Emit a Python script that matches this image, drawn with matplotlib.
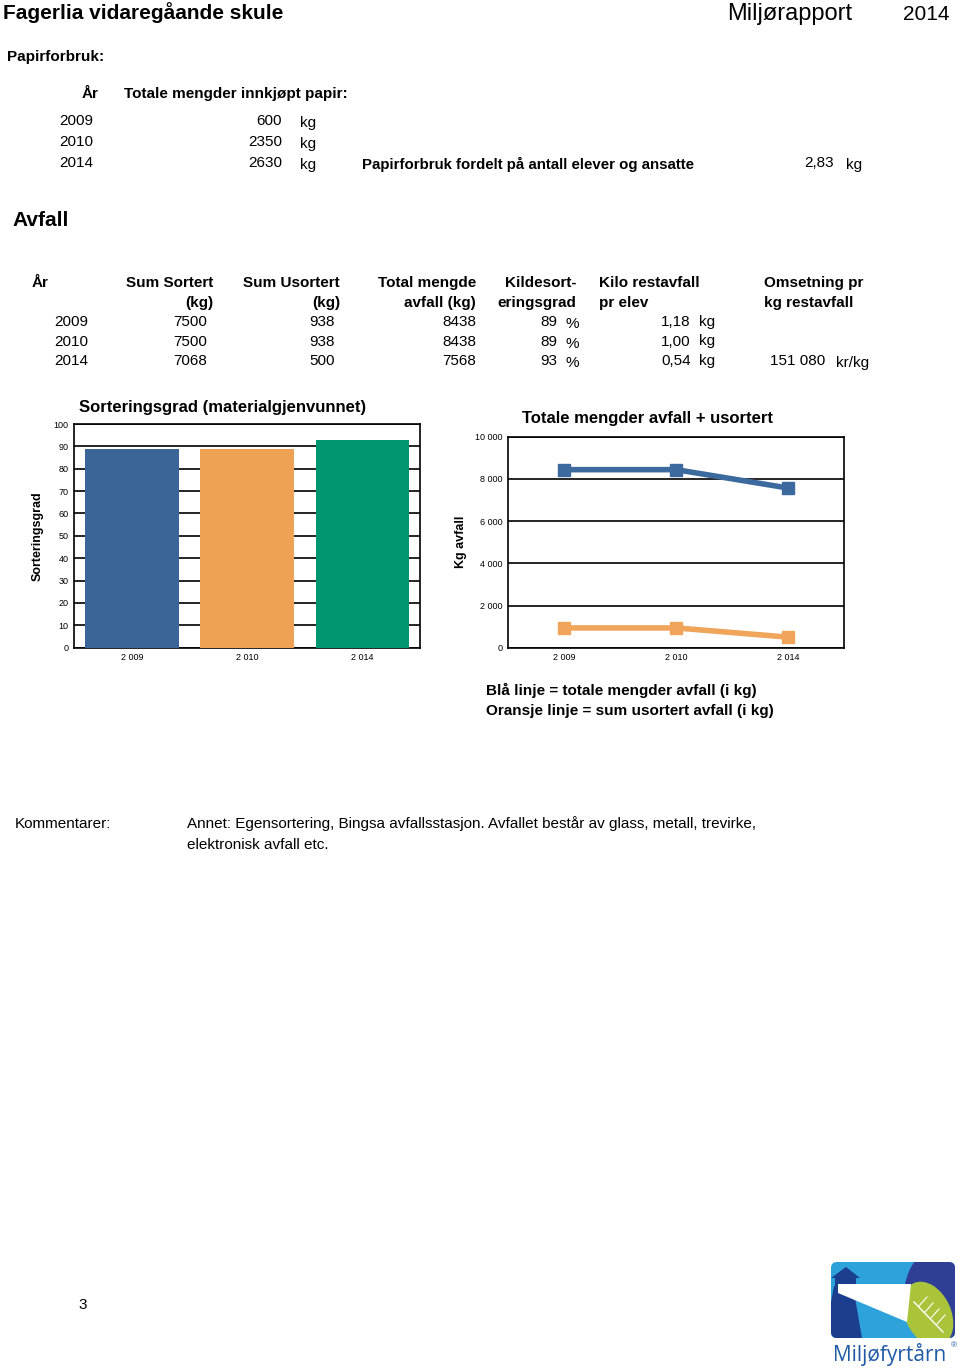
import matplotlib
matplotlib.use('Agg')
import matplotlib.pyplot as plt
from matplotlib.patches import FancyBboxPatch, Polygon, Ellipse, Rectangle
from matplotlib.ticker import FuncFormatter

plt.rcParams['font.family'] = ['Liberation Sans', 'DejaVu Sans']

W, H = 960, 1371

# papirforbruk
paper_years = ['2009', '2010', '2014']
paper_kg = [600, 2350, 2630]
paper_per_person = '2,83'

# avfall
waste_years = ['2009', '2010', '2014']
sorted_kg = [7500, 7500, 7068]
unsorted_kg = [938, 938, 500]
total_kg = [8438, 8438, 7568]
sort_grade = [89, 89, 93]
rest_per_student = ['1,18', '1,00', '0,54']
turnover = ['', '', '151 080']

chart_years = ['2 009', '2 010', '2 014']
bar_colors = ['#3a6596', '#eda254', '#00966f']
blue = '#3c6a9e'
orange = '#f0a55b'

fig = plt.figure(figsize=(W / 100, H / 100), dpi=100)


def t(x, y, s, ha='left', size=11, weight='normal', **kw):
    fig.text(x / W, 1 - y / H, s, ha=ha, va='center', fontsize=size,
             fontweight=weight, **kw)


# header
t(3, 13, 'Fagerlia vidaregåande skule', size=15, weight='bold')
t(852, 14, 'Miljørapport', ha='right', size=17)
t(950, 14, '2014', ha='right', size=15)

t(7, 57, 'Papirforbruk:', weight='bold')
t(98, 94, 'År', ha='right', weight='bold')
t(124, 94, 'Totale mengder innkjøpt papir:', weight='bold')
for i, (yr, kg) in enumerate(zip(paper_years, paper_kg)):
    y = 121 + i * 21
    t(93, y, yr, ha='right')
    t(282, y, str(kg), ha='right')
    t(300, y + 2, 'kg')
t(362, 164, 'Papirforbruk fordelt på antall elever og ansatte', weight='bold', size=10.8)
t(834, 163, paper_per_person, ha='right')
t(846, 165, 'kg')

# avfall table
t(12, 221, 'Avfall', size=15, weight='bold')
t(32, 283, 'År', weight='bold')
t(213, 283, 'Sum Sortert', ha='right', weight='bold')
t(213, 303, '(kg)', ha='right', weight='bold')
t(340, 283, 'Sum Usortert', ha='right', weight='bold')
t(340, 303, '(kg)', ha='right', weight='bold')
t(476, 283, 'Total mengde', ha='right', weight='bold')
t(476, 303, 'avfall (kg)', ha='right', weight='bold')
t(576, 283, 'Kildesort-', ha='right', weight='bold')
t(576, 303, 'eringsgrad', ha='right', weight='bold')
t(599, 283, 'Kilo restavfall', weight='bold')
t(599, 303, 'pr elev', weight='bold')
t(764, 283, 'Omsetning pr', weight='bold')
t(764, 303, 'kg restavfall', weight='bold')
for i in range(len(waste_years)):
    y = 322 + i * 19.5
    t(88, y, waste_years[i], ha='right')
    t(207, y, str(sorted_kg[i]), ha='right')
    t(335, y, str(unsorted_kg[i]), ha='right')
    t(476, y, str(total_kg[i]), ha='right')
    t(557, y, str(sort_grade[i]), ha='right')
    t(566, y + 2, '%')
    t(691, y, rest_per_student[i], ha='right')
    t(699, y, 'kg')
    if turnover[i]:
        t(825, y, turnover[i], ha='right')
        t(836, y + 2, 'kr/kg')

# bar chart
ax1 = fig.add_axes([74.3 / W, 1 - 647.7 / H, (420 - 74.3) / W, (647.7 - 424) / H])
x = range(len(chart_years))
ax1.bar(x, sort_grade, width=0.81, color=bar_colors, zorder=3)
ax1.set_xlim(-0.5, 2.5)
ax1.set_ylim(0, 100)
ax1.set_yticks(range(0, 101, 10))
ax1.set_xticks(list(x))
ax1.set_xticklabels(chart_years)
ax1.grid(axis='y', color='black', lw=1.2, zorder=1)
ax1.tick_params(axis='both', labelsize=6.5, length=0, pad=4)
for s in ax1.spines.values():
    s.set_linewidth(1.2)
ax1.set_ylabel('Sorteringsgrad', fontsize=9, fontweight='bold', labelpad=7.5)
t(79, 408, 'Sorteringsgrad (materialgjenvunnet)', size=12, weight='bold')

# line chart
ax2 = fig.add_axes([508.3 / W, 1 - 647.7 / H, 335.7 / W, 211 / H])
ax2.plot(x, total_kg, color=blue, lw=4, marker='s', ms=8, zorder=3)
ax2.plot(x, unsorted_kg, color=orange, lw=4, marker='s', ms=8, zorder=3)
ax2.set_xlim(-0.5, 2.5)
ax2.set_ylim(0, 10000)
ax2.set_yticks(range(0, 10001, 2000))
ax2.yaxis.set_major_formatter(FuncFormatter(lambda v, p: f'{int(v):,}'.replace(',', ' ')))
ax2.set_xticks(list(x))
ax2.set_xticklabels(chart_years)
ax2.grid(axis='y', color='black', lw=1.2, zorder=1)
ax2.tick_params(axis='both', labelsize=6.5, length=0, pad=4)
for s in ax2.spines.values():
    s.set_linewidth(1.2)
ax2.set_ylabel('Kg avfall', fontsize=9, fontweight='bold', labelpad=6)
t(648, 418, 'Totale mengder avfall + usortert', ha='center', size=12, weight='bold')

t(486, 690, 'Blå linje = totale mengder avfall (i kg)', weight='bold')
t(486, 711, 'Oransje linje = sum usortert avfall (i kg)', weight='bold')

# kommentarer
t(15, 824, 'Kommentarer:')
t(187, 824, 'Annet: Egensortering, Bingsa avfallsstasjon. Avfallet består av glass, metall, trevirke,')
t(187, 845, 'elektronisk avfall etc.')

t(78, 1305, '3')

# logo
lg = fig.add_axes([831 / W, 1 - 1338 / H, 124 / W, 76 / H])
lg.set_xlim(0, 124)
lg.set_ylim(76, 0)
lg.axis('off')
box = FancyBboxPatch((0, 0), 124, 76, boxstyle='round,pad=0,rounding_size=6',
                     fc='#2ea3db', ec='none')
lg.add_patch(box)
parts = [
    Ellipse((108, 34), 70, 96, fc='#2f3f95', ec='none'),
    Ellipse((97, 52), 46, 68, angle=-25, fc='#a9c43a', ec='none'),
    Polygon([[0, 16], [15, 5], [29, 16]], fc='#1c3e8e', ec='none'),
    Rectangle((4, 16), 21, 8, fc='#1c3e8e', ec='none'),
    Polygon([[3, 24], [22, 24], [31, 76], [0, 76], [0, 40]], fc='#1c3e8e', ec='none'),
    Polygon([[7, 22], [80, 22], [76, 60], [7, 31]], fc='white', ec='none'),
]
for p in parts:
    lg.add_patch(p)
    p.set_clip_path(box)
for k in range(4):
    lg.plot([88 + k * 6, 96 + k * 6], [44 + k * 6, 35 + k * 6], color='white', lw=0.8)
lg.plot([83, 112], [40, 70], color='white', lw=1)
t(890, 1355, 'Miljøfyrtårn', ha='center', size=15, color='#1f5aa6',
  family=['Open Sans', 'DejaVu Sans'])
t(951, 1346, '®', size=6, color='#1f5aa6')

fig.savefig('out.png', dpi=100)
